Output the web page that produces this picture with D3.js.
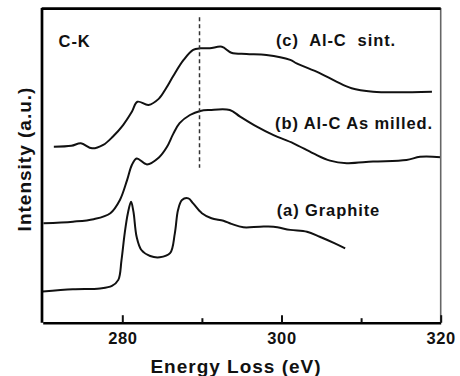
<!DOCTYPE html>
<html>
<head>
<meta charset="utf-8">
<script src="https://cdn.jsdelivr.net/npm/d3@7"></script>
<style>
  body { margin: 0; background: #fff; }
  text { font-family: "Liberation Sans", Arial, sans-serif; font-weight: bold; fill: #111; }
</style>
</head>
<body>
<div id="plot"></div>
<script>
// C-K edge spectra (intensity in arbitrary units)
const energyC = [271.4, 273.6, 274.8, 276.2, 277.6, 278.8, 280.1, 281.2, 281.9, 283.3, 284.6, 285.5, 286.4, 287.7, 288.9, 289.8, 291.0, 292.5, 293.7, 295.6, 298.1, 301.1, 301.9, 304.8, 306.9, 308.8, 311.5, 314.5, 318.9];
const intensityC = [5.59, 5.62, 5.70, 5.54, 5.65, 5.91, 6.28, 6.70, 7.02, 6.92, 7.12, 7.45, 7.84, 8.35, 8.67, 8.72, 8.72, 8.77, 8.58, 8.54, 8.51, 8.35, 8.24, 7.93, 7.66, 7.45, 7.34, 7.32, 7.34];

const energyB = [270.1, 273.8, 276.4, 278.5, 279.7, 280.6, 281.2, 281.8, 283.1, 284.6, 285.6, 286.4, 287.2, 288.5, 289.8, 291.0, 293.5, 294.8, 296.9, 299.0, 301.5, 304.0, 306.1, 308.2, 311.5, 315.7, 317.4, 320.0];
const intensityB = [3.16, 3.21, 3.29, 3.48, 3.90, 4.53, 5.01, 5.22, 5.03, 5.25, 5.58, 6.00, 6.34, 6.60, 6.73, 6.76, 6.76, 6.55, 6.23, 5.96, 5.70, 5.38, 5.15, 5.07, 5.12, 5.17, 5.27, 5.26];

const energyA = [270.0, 273.8, 277.2, 278.7, 279.5, 279.9, 280.3, 280.7, 281.1, 281.4, 281.8, 282.4, 283.5, 284.7, 286.0, 286.6, 287.0, 287.5, 288.3, 288.9, 290.0, 291.2, 292.7, 293.7, 295.2, 297.3, 299.0, 301.1, 303.2, 304.8, 306.7, 308.0];
const intensityA = [0.99, 1.06, 1.09, 1.17, 1.36, 1.99, 2.84, 3.48, 3.84, 3.53, 2.73, 2.31, 2.12, 2.08, 2.21, 2.84, 3.58, 3.90, 3.95, 3.79, 3.48, 3.32, 3.24, 3.14, 3.03, 3.05, 3.05, 2.95, 2.89, 2.73, 2.52, 2.36];

const majorTicks = [280, 300, 320];
const minorTicks = [290, 310];
const markerEnergy = 289.7;
const markerRange = [4.92, 9.71];

const width = 460, height = 376;
const margin = { top: 8, right: 19.3, bottom: 53.3, left: 42.7 };
const innerW = width - margin.left - margin.right;
const innerH = height - margin.top - margin.bottom;

const svg = d3.select("#plot")
  .append("svg")
  .attr("width", width)
  .attr("height", height);

const g = svg.append("g")
  .attr("transform", `translate(${margin.left},${margin.top})`);

const x = d3.scaleLinear().domain([270, 320]).range([0, innerW]);
const y = d3.scaleLinear().domain([0, 10]).range([innerH, 0]);

const line = d3.line()
  .x(d => x(d[0]))
  .y(d => y(d[1]))
  .curve(d3.curveCatmullRom.alpha(0.5));

const spectra = [
  d3.zip(energyA, intensityA),
  d3.zip(energyB, intensityB),
  d3.zip(energyC, intensityC)
];

g.selectAll(".spectrum")
  .data(spectra)
  .enter().append("path")
  .attr("class", "spectrum")
  .attr("d", line)
  .attr("fill", "none")
  .attr("stroke", "#111")
  .attr("stroke-width", 2)
  .attr("stroke-linejoin", "round");

// dashed marker line
g.append("line")
  .attr("x1", x(markerEnergy)).attr("x2", x(markerEnergy))
  .attr("y1", y(markerRange[1])).attr("y2", y(markerRange[0]))
  .attr("stroke", "#333")
  .attr("stroke-width", 1.5)
  .attr("stroke-dasharray", "4,3");

// frame
g.append("line").attr("x1", innerW).attr("x2", innerW).attr("y1", 0).attr("y2", innerH)
  .attr("stroke", "#666").attr("stroke-width", 1.6);
g.append("line").attr("x1", -1).attr("x2", innerW).attr("y1", 0.7).attr("y2", 0.7)
  .attr("stroke", "#000").attr("stroke-width", 2.7);
g.append("line").attr("x1", -0.7).attr("x2", -0.7).attr("y1", 0).attr("y2", innerH)
  .attr("stroke", "#000").attr("stroke-width", 2.7);

// axes with inward ticks
const xAxis = g.append("g")
  .attr("transform", `translate(0,${innerH})`)
  .call(d3.axisBottom(x).tickValues(majorTicks).tickSizeInner(-7.5).tickSizeOuter(0).tickPadding(10));
xAxis.select(".domain").attr("stroke", "#000").attr("stroke-width", 2.4);
xAxis.selectAll(".tick line").attr("stroke", "#111").attr("stroke-width", 2);
xAxis.selectAll(".tick text")
  .attr("fill", "#111")
  .style("font-size", "16.5px")
  .style("letter-spacing", "0.6px")
  .style("font-family", "'Liberation Sans', Arial, sans-serif")
  .style("font-weight", "bold");

const xMinor = g.append("g")
  .attr("transform", `translate(0,${innerH})`)
  .call(d3.axisBottom(x).tickValues(minorTicks).tickSizeInner(-4.5).tickSizeOuter(0).tickFormat(""));
xMinor.select(".domain").remove();
xMinor.selectAll(".tick line").attr("stroke", "#111").attr("stroke-width", 2);

// axis titles
svg.append("text")
  .attr("x", 236)
  .attr("y", 373)
  .attr("text-anchor", "middle")
  .style("font-size", "19px")
  .style("letter-spacing", "1px")
  .text("Energy Loss (eV)");

svg.append("text")
  .attr("transform", "translate(31,159) rotate(-90)")
  .attr("text-anchor", "middle")
  .style("font-size", "19px")
  .style("letter-spacing", "1px")
  .text("Intensity (a.u.)");

// annotations
const note = (ev, val, txt) => g.append("text")
  .attr("x", x(ev))
  .attr("y", y(val))
  .style("font-size", "16.5px")
  .style("letter-spacing", "0.9px")
  .style("white-space", "pre")
  .text(txt);

note(272.0, 8.76, "C-K");
note(299.3, 8.78, "(c)  Al-C  sint.");
note(299.2, 6.16, "(b) Al-C As milled.");
note(299.4, 3.39, "(a) Graphite");
</script>
</body>
</html>
